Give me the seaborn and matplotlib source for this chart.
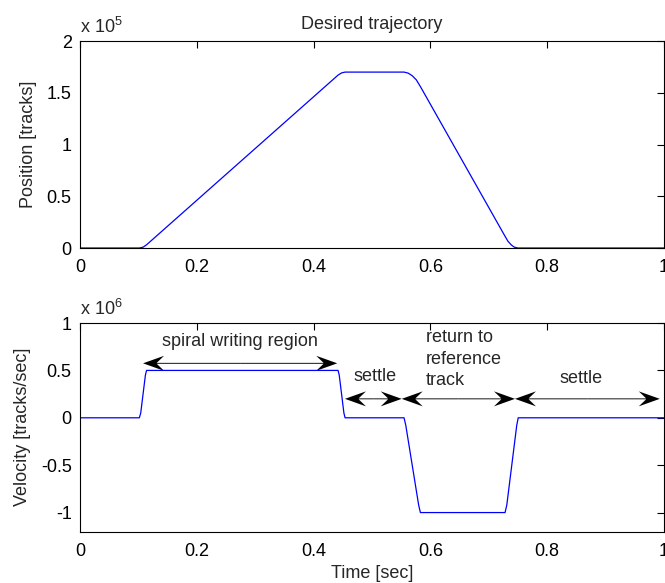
import numpy as np
import pandas as pd
import matplotlib
matplotlib.use('Agg')
import matplotlib.pyplot as plt
import seaborn as sns
from matplotlib.ticker import FuncFormatter

# breakpoints
pos_t   = [0, 0.1016, 0.108, 0.114, 0.442, 0.448, 0.454, 0.555, 0.562, 0.569, 0.576, 0.583,
           0.728, 0.733, 0.739, 0.744, 0.750, 1.0]
pos_val = [0, 0, 0.008e5, 0.031e5, 1.671e5, 1.692e5, 1.70e5, 1.70e5, 1.690e5, 1.665e5, 1.625e5, 1.56e5,
           0.113e5, 0.065e5, 0.028e5, 0.008e5, 0, 0]

vel_t   = [0, 0.1016, 0.104, 0.112, 0.114, 0.442, 0.444, 0.452, 0.454, 0.555, 0.558, 0.580, 0.583,
           0.728, 0.731, 0.748, 0.7505, 1.0]
vel_val = [0, 0, 0.05e6, 0.45e6, 0.5e6, 0.5e6, 0.45e6, 0.05e6, 0, 0, -0.08e6, -0.92e6, -1e6,
           -1e6, -0.92e6, -0.08e6, 0, 0]

# double-arrow annotations: (x_start, x_end, y)
arrows = [(0.108, 0.4406, 0.575e6),
          (0.4538, 0.551, 0.2e6),
          (0.551, 0.745, 0.2e6),
          (0.745, 0.993, 0.2e6)]
labels = [("spiral writing region", 0.274, 0.80e6, 'center', 'center'),
          ("settle", 0.505, 0.44e6, 'center', 'center'),
          ("return to\nreference\ntrack", 0.593, 0.935e6, 'left', 'top'),
          ("settle", 0.859, 0.42e6, 'center', 'center')]

sns.set_style('white')
plt.rcParams['font.family'] = ['Liberation Sans', 'DejaVu Sans']
plt.rcParams['mathtext.fontset'] = 'custom'
plt.rcParams['mathtext.rm'] = 'Liberation Sans'
plt.rcParams['mathtext.it'] = 'Liberation Sans'

fig = plt.figure(figsize=(6.65, 5.83), dpi=100)
ax1 = fig.add_axes([0.1203, 0.5746, 0.878, 0.355])
ax2 = fig.add_axes([0.1203, 0.0883, 0.878, 0.3576])

df_pos = pd.DataFrame({'t': pos_t, 'pos': pos_val})
df_vel = pd.DataFrame({'t': vel_t, 'vel': vel_val})
sns.lineplot(data=df_pos, x='t', y='pos', ax=ax1, color='blue', lw=0.9)
sns.lineplot(data=df_vel, x='t', y='vel', ax=ax2, color='blue', lw=0.9)

fs = 13
for ax, scale, exp in [(ax1, 1e5, 5), (ax2, 1e6, 6)]:
    ax.set_xlim(0, 1)
    ax.set_xticks([0, 0.2, 0.4, 0.6, 0.8, 1])
    ax.xaxis.set_major_formatter(FuncFormatter(lambda v, p: f'{v:g}'))
    ax.yaxis.set_major_formatter(FuncFormatter(lambda v, p, s=scale: f'{v / s:g}'))
    ax.tick_params(direction='in', length=5, width=0.8, top=True, right=True,
                   labelsize=fs, pad=6, colors='black')
    ax.tick_params(axis='x', pad=8)
    for sp in ax.spines.values():
        sp.set_linewidth(0.8)
        sp.set_color('black')
    ax.text(0.0, 1.02, rf'x 10$^{{{exp}}}$', transform=ax.transAxes, fontsize=fs,
            ha='left', va='bottom')

ax1.set_ylim(0, 2e5)
ax1.set_yticks([0, 0.5e5, 1e5, 1.5e5, 2e5])
ax2.set_ylim(-1.2e6, 1e6)
ax2.set_yticks([-1e6, -0.5e6, 0, 0.5e6, 1e6])

ax1.set_title('Desired trajectory', fontsize=fs, pad=9)
ax1.set_xlabel('')
ax1.set_ylabel('Position [tracks]', fontsize=fs, labelpad=7)
ax2.set_xlabel('Time [sec]', fontsize=fs, labelpad=4)
ax2.set_ylabel('Velocity [tracks/sec]', fontsize=fs, labelpad=7)

# MATLAB-like double arrows with concave heads
px_x = 1.0 / (0.878 * 665)
px_y = 2.2e6 / (0.3576 * 583)
for x0, x1, y in arrows:
    xm = (x0 + x1) / 2
    for xe in (x0, x1):
        ax2.arrow(xm, y, xe - xm, 0, width=0.9 * px_y, head_width=15 * px_y,
                  head_length=21 * px_x, overhang=0.35, length_includes_head=True,
                  color='black', lw=0)
for txt, x, y, ha, va in labels:
    ax2.text(x, y, txt, ha=ha, va=va, fontsize=fs, linespacing=1.35)

fig.savefig('out.png', dpi=100)
